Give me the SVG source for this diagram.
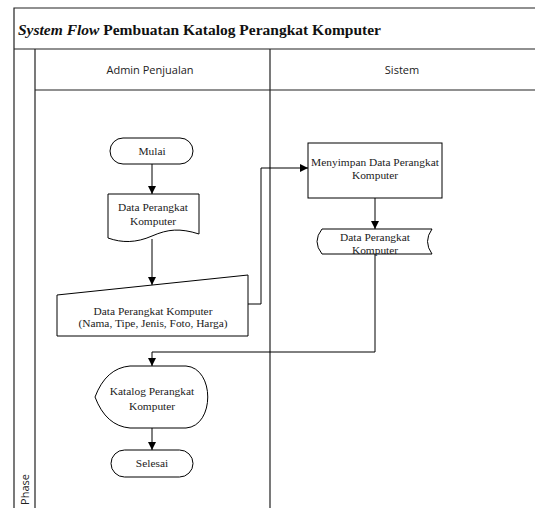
<svg xmlns="http://www.w3.org/2000/svg" width="535" height="508" viewBox="0 0 535 508">
<defs>
<marker id="arr" markerWidth="8" markerHeight="8" refX="8" refY="4" orient="auto" markerUnits="userSpaceOnUse">
<path d="M0,0 L8,4 L0,8 Z" fill="#000"/>
</marker>
<style>
.frame{fill:none;stroke:#222;stroke-width:1.2}
.node{fill:#fff;stroke:#000;stroke-width:1}
.t{font-family:"Liberation Serif","Times New Roman",serif;font-size:11.4px;fill:#222;text-anchor:middle}
.h{font-family:"Open Sans","Noto Sans",sans-serif;font-size:11px;fill:#222;text-anchor:middle}
.c{fill:none;stroke:#000;stroke-width:1}
</style>
</defs>
<rect x="0" y="0" width="535" height="508" fill="#fff"/>
<g id="frame">
<path class="frame" d="M14,508 V8 H535 M14,49 H535 M35,49 V508 M35,90 H535 M270,49 V508"/>
<text x="18" y="35" font-family="'Liberation Serif','Times New Roman',serif" font-size="15.5" font-weight="bold" fill="#111"><tspan font-style="italic">System Flow</tspan> Pembuatan Katalog Perangkat Komputer</text>
<text class="h" x="150" y="74">Admin Penjualan</text>
<text class="h" x="402" y="74">Sistem</text>
<text class="h" transform="translate(29,474) rotate(-90)" style="text-anchor:end">Phase</text>
</g>
<g id="connectors">
<path class="c" d="M152,164 V194" marker-end="url(#arr)"/>
<path class="c" d="M152,239 V285" marker-end="url(#arr)"/>
<path class="c" d="M248,304 H261 V168 H308" marker-end="url(#arr)"/>
<path class="c" d="M375,198 V229" marker-end="url(#arr)"/>
<path class="c" d="M375,254 V352 H152 V366" marker-end="url(#arr)"/>
<path class="c" d="M152,428 V450" marker-end="url(#arr)"/>
</g>
<g id="mulai">
<rect class="node" x="110" y="138" width="83" height="26" rx="13"/>
<text class="t" x="152" y="155">Mulai</text>
</g>
<g id="doc-data">
<path class="node" d="M108,194 H199 V234 C180,228 168,229 152,236 C136,243 122,243 108,238 Z"/>
<text class="t" x="153" y="211">Data Perangkat</text>
<text class="t" x="153" y="225">Komputer</text>
</g>
<g id="input-data">
<path class="node" d="M57,295 L248,275 V336 H57 Z"/>
<text class="t" x="153" y="315">Data Perangkat Komputer</text>
<text class="t" x="153" y="327">(Nama, Tipe, Jenis, Foto, Harga)</text>
</g>
<g id="menyimpan">
<rect class="node" x="308" y="143" width="134" height="55"/>
<text class="t" x="375" y="166">Menyimpan Data Perangkat</text>
<text class="t" x="375" y="179">Komputer</text>
</g>
<g id="stored-data">
<path class="node" d="M322,229 H432 Q423,241.5 432,254 H322 Q312,241.5 322,229 Z"/>
<text class="t" x="375" y="241">Data Perangkat</text>
<text class="t" x="375" y="254">Komputer</text>
</g>
<g id="katalog">
<path class="node" d="M95,397 Q106,368 130,366 H186 C215,368 215,426 186,428 H130 Q106,426 95,397 Z"/>
<text class="t" x="152" y="395">Katalog Perangkat</text>
<text class="t" x="152" y="410">Komputer</text>
</g>
<g id="selesai">
<rect class="node" x="111" y="450" width="82" height="27" rx="13.5"/>
<text class="t" x="152" y="467">Selesai</text>
</g>
</svg>
